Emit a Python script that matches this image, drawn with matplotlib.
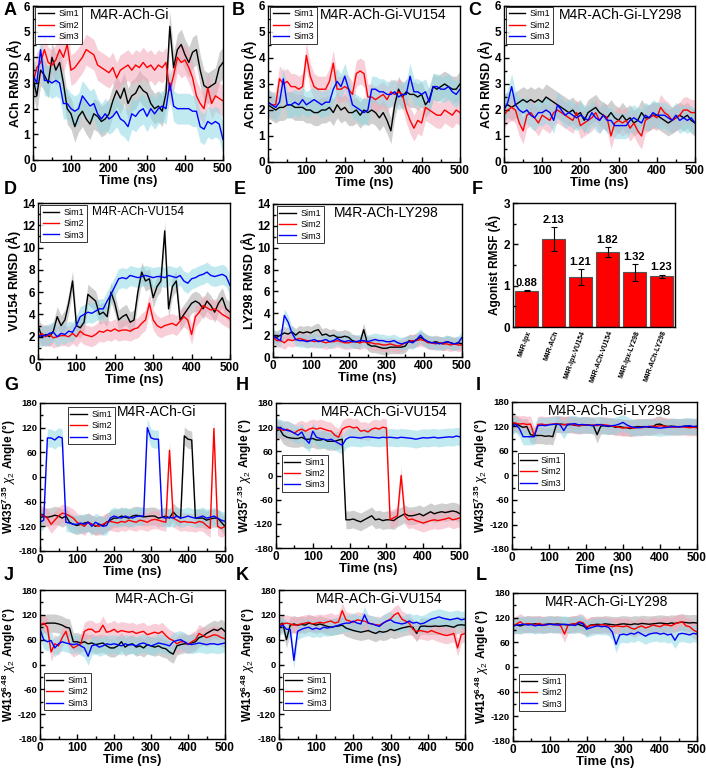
import numpy as np
import matplotlib
matplotlib.use('Agg')
import matplotlib.pyplot as plt
from matplotlib.ticker import MultipleLocator

plt.rcParams['font.family'] = ['Liberation Sans', 'DejaVu Sans']
plt.rcParams['mathtext.fontset'] = 'custom'
plt.rcParams['mathtext.rm'] = 'Liberation Sans'
plt.rcParams['mathtext.bf'] = 'Liberation Sans:bold'
plt.rcParams['mathtext.it'] = 'Liberation Sans:italic'
plt.rcParams['axes.unicode_minus'] = False

# time grid (ns), one value every 10 ns
t_ns = np.arange(0, 501, 10)
sim_names = ["Sim1", "Sim2", "Sim3"]

# ---- A: M4R-ACh-Gi, ACh RMSD (A)
a_sim1 = [3.2, 2.5, 3.5, 3.3, 3.0, 4.0, 3.5, 3.8, 3.0, 2.0,
          1.8, 1.3, 1.7, 1.9, 1.6, 1.4, 1.8, 1.7, 1.5, 1.6,
          1.8, 2.3, 2.7, 2.4, 2.8, 2.2, 2.5, 2.6, 2.9, 2.7,
          2.6, 2.2, 2.0, 2.1, 1.9, 2.6, 5.2, 3.6, 4.3, 4.5,
          4.1, 3.8, 4.2, 4.3, 3.5, 2.9, 2.8, 2.9, 3.0, 3.6, 3.8]
a_sim2 = [3.0, 3.6, 3.8, 4.3, 3.8, 3.7, 3.9, 4.3, 4.0, 4.5,
          3.5, 3.6, 3.8, 4.0, 4.3, 4.2, 4.1, 3.7, 3.6, 3.5,
          3.4, 3.6, 3.2, 3.5, 3.6, 3.7, 3.5, 3.7, 3.6, 3.8,
          3.6, 3.7, 3.5, 3.7, 3.6, 3.8, 2.7, 3.3, 4.0, 3.8,
          3.9, 3.6, 3.2, 2.5, 2.2, 2.0, 2.8, 2.2, 2.5, 2.4, 2.3]
a_sim3 = [3.3, 3.0, 4.3, 3.1, 3.1, 3.0, 3.1, 3.0, 2.2, 2.2,
          2.0, 1.9, 2.0, 2.5, 2.3, 2.1, 2.2, 1.8, 1.6, 1.8,
          1.6, 1.7, 1.9, 1.6, 1.5, 1.3, 1.8, 1.7, 1.9, 2.0,
          1.7, 2.0, 1.8, 2.0, 2.1, 2.0, 3.0, 2.1, 2.0, 2.0,
          2.0, 2.0, 1.9, 1.9, 1.3, 1.2, 1.5, 1.4, 1.5, 1.4, 0.8]

# ---- B: M4R-ACh-Gi-VU154
b_sim1 = [2.2, 2.1, 2.0, 2.1, 2.1, 2.2, 2.2, 2.1, 2.1, 2.1,
          2.0, 2.0, 1.9, 1.9, 2.0, 2.0, 2.1, 1.9, 2.2, 2.0,
          2.1, 1.9, 1.9, 2.0, 1.8, 2.0, 1.9, 2.0, 1.9, 1.7,
          1.9, 1.6, 1.2, 2.2, 2.8, 2.5, 2.7, 2.6, 2.6, 2.5,
          2.6, 2.2, 2.4, 2.9, 2.8, 2.9, 3.0, 2.9, 2.8, 2.8, 3.0]
b_sim2 = [2.3, 2.2, 2.2, 3.2, 3.0, 3.1, 2.9, 2.9, 2.8, 2.9,
          4.1, 3.3, 2.9, 2.8, 2.8, 2.8, 3.1, 3.8, 2.8, 2.8,
          2.9, 2.8, 2.6, 3.4, 3.5, 3.4, 2.5, 2.5, 2.4, 2.5,
          2.6, 2.4, 2.7, 2.6, 2.7, 2.6, 2.0, 1.6, 1.3, 1.6,
          1.5, 2.1, 2.0, 1.9, 1.8, 1.8, 2.0, 1.9, 1.8, 2.0, 1.9]
b_sim3 = [2.3, 2.2, 2.1, 2.3, 3.2, 2.2, 2.2, 2.3, 2.2, 2.4,
          2.2, 2.3, 2.4, 2.3, 2.2, 2.3, 2.3, 2.8, 3.1, 2.9,
          3.3, 2.8, 2.2, 2.1, 2.0, 1.9, 2.0, 2.8, 2.8, 2.7,
          2.7, 2.6, 2.6, 2.7, 2.5, 2.6, 2.6, 3.3, 2.7, 2.7,
          2.6, 2.7, 2.3, 2.9, 2.9, 2.8, 2.8, 2.9, 2.7, 2.6, 2.8]

# ---- C: M4R-ACh-Gi-LY298
c_sim1 = [2.1, 2.2, 2.1, 2.2, 2.3, 2.4, 2.3, 2.4, 2.3, 2.4,
          2.3, 2.5, 2.4, 2.3, 2.2, 2.1, 2.0, 1.9, 2.0, 1.8,
          1.9, 1.6, 1.9, 2.0, 2.1, 1.9, 1.8, 1.7, 1.9, 1.7,
          1.6, 1.8, 1.6, 1.7, 1.5, 1.6, 1.9, 1.7, 1.7, 1.8,
          1.8, 1.7, 1.6, 1.5, 1.6, 1.7, 1.8, 1.7, 1.8, 1.6, 1.5]
c_sim2 = [1.8, 2.0, 2.1, 2.0, 1.5, 1.2, 1.8, 1.9, 1.7, 1.5,
          1.8, 1.7, 1.6, 1.9, 2.0, 1.9, 1.8, 1.7, 1.6, 1.9,
          1.4, 1.5, 1.6, 1.7, 1.9, 1.6, 1.8, 1.7, 1.0, 1.5,
          1.6, 1.5, 1.6, 1.3, 1.5, 1.2, 1.0, 1.6, 1.7, 1.8,
          1.7, 2.1, 1.9, 1.8, 1.6, 1.7, 1.8, 2.0, 2.0, 1.9, 1.9]
c_sim3 = [2.0, 2.3, 2.9, 2.2, 2.0, 1.9, 2.0, 1.8, 1.7, 1.9,
          1.9, 2.0, 1.9, 1.6, 2.2, 2.0, 1.8, 1.9, 1.8, 1.7,
          1.8, 1.7, 1.6, 1.9, 1.7, 1.6, 1.8, 1.6, 1.6, 1.4,
          1.4, 1.4, 1.4, 1.6, 1.7, 1.6, 1.5, 1.8, 1.7, 1.9,
          1.8, 1.8, 1.8, 1.7, 1.6, 1.8, 1.6, 1.7, 1.6, 1.7, 1.5]

# ---- D: M4R-ACh-VU154, VU154 RMSD
d_sim1 = [3.0, 2.0, 2.2, 2.0, 2.5, 3.8, 3.0, 3.5, 5.0, 7.0,
          3.0, 2.8, 3.3, 5.8, 5.5, 5.2, 4.0, 4.2, 3.8, 6.0,
          5.0, 3.5, 3.8, 4.0, 3.3, 3.5, 6.0, 7.8, 7.0, 7.2,
          5.5, 6.5, 7.0, 11.5, 4.5, 6.5, 7.0, 3.5, 4.0, 4.5,
          5.0, 5.2, 5.0, 4.5, 5.2, 4.8, 4.2, 5.0, 5.5, 4.5, 4.2]
d_sim2 = [2.0, 2.3, 2.0, 2.2, 1.9, 2.0, 2.1, 2.1, 2.0, 2.3,
          2.0, 2.5, 2.2, 2.1, 2.0, 2.2, 2.5, 2.4, 2.6, 2.5,
          2.7, 2.5, 2.6, 2.6, 2.5, 2.7, 2.8, 3.2, 3.5, 5.0,
          3.5, 3.0, 2.8, 3.0, 3.1, 3.2, 3.0, 3.4, 3.8, 3.5,
          2.2, 3.8, 4.2, 4.8, 4.6, 4.4, 4.5, 4.3, 4.0, 3.8, 3.6]
d_sim3 = [2.0, 2.1, 2.1, 2.3, 2.4, 2.0, 2.3, 2.2, 2.5, 2.4,
          3.0, 3.8, 4.0, 4.2, 4.1, 4.3, 4.5, 4.5, 5.2, 5.8,
          6.5, 7.2, 7.3, 7.2, 7.5, 7.4, 7.3, 7.4, 7.5, 7.4,
          7.3, 7.4, 7.4, 7.3, 7.5, 7.4, 7.3, 7.5, 7.0, 6.8,
          7.2, 7.3, 7.5, 7.6, 7.8, 7.5, 7.4, 7.5, 7.6, 7.4, 6.6]

# ---- E: M4R-ACh-LY298, LY298 RMSD
e_sim1 = [1.9, 1.8, 2.0, 2.2, 2.1, 2.3, 2.0, 2.3, 2.2, 2.3,
          2.2, 2.4, 2.5, 2.0, 2.1, 1.9, 2.0, 1.8, 1.8, 1.9,
          1.8, 1.5, 1.4, 1.3, 2.5, 1.2, 1.0, 1.0, 0.9, 0.8,
          0.8, 0.9, 0.9, 0.9, 0.9, 1.0, 1.5, 1.4, 1.6, 1.8,
          1.6, 1.4, 1.3, 1.4, 1.3, 1.2, 1.4, 1.3, 1.2, 1.3, 1.2]
e_sim2 = [1.8, 1.5, 1.5, 1.3, 1.6, 1.5, 1.6, 1.7, 1.6, 1.5,
          1.5, 1.4, 1.5, 1.4, 1.3, 1.4, 1.4, 1.5, 1.4, 1.3,
          1.3, 1.4, 1.4, 1.3, 1.4, 1.3, 1.3, 1.2, 1.2, 1.1,
          1.1, 1.2, 1.1, 1.0, 1.1, 1.3, 1.4, 1.5, 1.5, 1.6,
          1.5, 1.3, 1.3, 1.2, 1.3, 1.2, 1.2, 1.1, 1.2, 1.1, 1.1]
e_sim3 = [2.0, 1.7, 1.5, 3.8, 3.2, 2.2, 1.6, 1.5, 1.5, 1.4,
          1.5, 1.6, 1.4, 1.5, 1.6, 1.4, 1.5, 1.7, 1.5, 1.4,
          1.5, 1.4, 1.4, 1.5, 1.5, 1.4, 1.5, 1.6, 1.5, 1.5,
          1.4, 1.4, 1.5, 1.3, 1.2, 1.3, 1.4, 1.3, 1.6, 2.0,
          1.6, 1.4, 1.3, 1.3, 1.2, 1.3, 1.4, 1.3, 1.2, 1.3, 1.8]

# ---- F: agonist RMSF bars
f_labels = ["M4R-Ipx", "M4R-ACh", "M4R-Ipx-VU154", "M4R-ACh-VU154",
            "M4R-Ipx-LY298", "M4R-ACh-LY298"]
f_values = [0.88, 2.13, 1.21, 1.82, 1.32, 1.23]
f_errors = [0.02, 0.29, 0.19, 0.12, 0.21, 0.04]

# ---- G: W435 chi2, M4R-ACh-Gi
g_sim1 = [-100, -95, -98, -96, -93, -95, -100, -95, -110, -115,
          -118, -115, -112, -110, -115, -120, -115, -118, -110, -105,
          -100, -100, -95, -98, -100, -95, -93, -95, -97, -96,
          -95, -95, -100, -98, -95, -100, -85, -95, -100, 100,
          92, 90, -100, -100, -100, -105, -102, -100, -100, -110, -120]
g_sim2 = [-90, -95, -100, -115, -105, -95, -88, -90, -95, -100,
          -110, -115, -120, -110, -115, -118, -120, -115, -110, -108,
          -110, -112, -108, -110, -105, -108, -110, -105, -107, -110,
          -105, -103, -105, -108, -110, 65, -100, -105, -110, -108,
          -110, -110, -112, -108, -110, -118, -125, 118, -120, -125, -120]
g_sim3 = [-110, -105, 95, 95, 90, 98, 95, -110, -112, -115,
          -115, -112, -115, -110, -120, -110, -115, -120, -118, -100,
          -95, -98, -100, -95, -98, -100, -96, -95, -95, 120,
          95, 92, 92, -98, -100, -98, -100, -95, -100, -98,
          -95, -98, -100, -98, -95, -100, -98, -95, -100, -105, -108]

# ---- H: W435 chi2, M4R-ACh-Gi-VU154
h_sim1 = [110, 115, 100, 95, 93, 92, 92, 95, 90, 90,
          92, 88, 88, 90, 85, 85, 85, 88, 90, -110,
          -110, -108, -112, -115, -110, -105, -100, -110, -108, -112,
          -110, -110, -112, -105, -100, -95, -100, -100, -98, -95,
          -100, -95, -90, -95, -92, -90, -92, -90, -88, -90, -95]
h_sim2 = [118, 115, 112, 115, 110, 105, 112, 115, 110, 115,
          118, 115, 118, 115, 112, 110, 100, 95, 115, 120,
          122, 118, 120, 110, 112, 108, 115, 118, 115, 120,
          118, -110, -105, -100, 0, -100, -110, -108, -112, -115,
          -118, -115, -112, -110, -112, -110, -108, -105, -110, -108, -105]
h_sim3 = [120, 118, 115, 112, 110, 105, 100, 108, 90, 80,
          110, 95, 92, 90, 88, 90, 85, 80, 75, 90,
          95, 95, 94, 93, 95, 96, 95, 94, 93, 95,
          94, 95, 94, 93, 95, 94, 93, 92, 90, 92,
          94, 93, 94, 95, 93, 94, 95, 96, 95, 98, 96]

# ---- I: W435 chi2, M4R-ACh-Gi-LY298
i_sim1 = [125, 128, 122, 118, 120, 100, 98, 98, 98, 96,
          97, 95, 125, 126, 125, 124, 125, 123, 122, 123,
          124, 123, 122, 100, 121, 122, 120, 121, 118, 120,
          118, 117, 115, 118, 120, 119, 120, 118, 119, 125,
          126, 122, 120, 121, 120, 119, 120, 121, 120, 119, 120]
i_sim2 = [130, 128, 126, 127, 125, 126, 98, 125, 126, 124,
          125, 126, 127, 125, 124, 126, 125, 124, 122, 123,
          124, 123, 124, 122, 125, 124, 123, 121, 120, 118,
          116, 118, 117, 116, 118, 117, 119, 120, 121, 120,
          122, 121, 120, 119, 118, 120, 119, 118, 117, 118, 117]
i_sim3 = [120, 125, 115, 95, 95, 95, 95, 122, 123, 122,
          124, 125, 126, 124, 110, 125, 126, 127, 124, 125,
          124, 123, 122, 125, 124, 122, 121, 122, 123, 126,
          130, 124, 120, 118, 117, 118, 119, 120, 118, 117,
          116, 117, 118, 119, 120, 119, 120, 121, 122, 120, 121]

# ---- J: W413 chi2, M4R-ACh-Gi
j_sim1 = [95, 98, 100, 100, 100, 98, 95, 90, 88, 55,
          55, 52, 55, 50, 52, 48, 50, 52, 45, 40,
          40, 45, 55, 42, 48, 50, 42, 45, 40, 48,
          45, 42, 45, 40, 38, 30, 25, 45, 48, 50,
          50, 52, 55, 65, 68, 75, 80, 85, 82, 88, 80]
j_sim2 = [95, 100, 90, 30, 50, 45, 65, 80, 50, 40,
          45, 50, 80, 85, 85, 78, 80, 95, 78, 80,
          85, 78, 82, 80, 78, 80, 75, 78, 80, 72,
          75, 78, 75, 80, 70, 62, 58, 50, 55, 55,
          48, 55, 60, 75, 70, 65, 68, 72, 70, 65, 62]
j_sim3 = [85, 60, 55, 58, 40, 50, 55, 52, 50, 48,
          50, 45, 40, 20, 45, 48, 42, 45, 50, 48,
          50, 48, 45, 50, 47, 48, 45, 50, 52, 48,
          45, 48, 52, 50, 48, 45, 55, 58, 60, 55,
          50, 48, 50, 52, 50, 48, 50, 50, 48, 50, 52]

# ---- K: W413 chi2, M4R-ACh-Gi-VU154
k_sim1 = [95, 100, 60, 95, 98, 95, 97, 95, 100, 98,
          95, 98, 95, 92, 90, 92, 93, 95, 88, 85,
          82, 80, 78, 80, 82, 78, 75, 80, 78, 80,
          85, 82, 85, 88, 90, 92, 90, 75, 92, 93,
          92, 92, 93, 92, 93, 94, 92, 90, 95, 96, 95]
k_sim2 = [95, 98, 100, 98, 95, 96, 98, 100, 102, 98,
          100, 102, 100, 103, 105, 100, 103, 130, 108, 105,
          102, 108, 106, 105, 100, 98, 96, 95, 100, 105,
          110, 120, 125, 110, 105, 100, 85, 80, 82, 80,
          78, 82, 78, 75, 72, 70, 72, 75, 40, 72, 75]
k_sim3 = [90, 95, 85, 85, 10, 80, 85, 88, 90, 85,
          88, 85, 90, 88, 90, 92, 95, 98, 100, 100,
          105, 100, 98, 120, 100, 98, 95, 92, 100, 105,
          108, 102, 100, 98, 100, 105, 100, 102, 98, 100,
          105, 110, 112, 115, 112, 110, 108, 110, 112, 108, 110]

# ---- L: W413 chi2, M4R-ACh-Gi-LY298
l_sim1 = [100, 102, 100, 103, 105, 104, 105, 104, 103, 104,
          105, 104, 105, 104, 103, 102, 104, 105, 103, 100,
          95, 102, 103, 104, 103, 105, 104, 103, 102, 104,
          105, 104, 103, 105, 104, 106, 105, 104, 105, 106,
          107, 106, 105, 107, 106, 108, 109, 108, 107, 108, 107]
l_sim2 = [100, 105, 110, 103, 105, 104, 102, 106, 103, 102,
          104, 103, 104, 100, 80, 103, 104, 105, 110, 108,
          98, 100, 102, 101, 103, 102, 100, 98, 100, 99,
          98, 100, 95, 92, 97, 100, 95, 98, 102, 100,
          98, 103, 102, 100, 105, 108, 110, 100, 98, 90, 85]
l_sim3 = [100, 102, 103, 104, 102, 103, 100, 102, 101, 103,
          104, 103, 102, 103, 104, 103, 102, 101, 108, 105,
          92, 95, 98, 100, 98, 99, 96, 85, 55, 78,
          80, 78, 82, 80, 85, 80, 75, 80, 82, 83,
          80, 82, 78, 80, 65, 80, 82, 80, 78, 82, 80]

# fluctuation half-width of the raw traces behind each running line
spread = {"A": 0.6, "B": 0.5, "C": 0.5, "D": 0.9, "E": 0.6,
          "G": 22, "H": 22, "I": 20, "J": 22, "K": 20, "L": 20}

line_colors = ["black", "red", "blue"]
band_colors = ["#a8a8a8", "#f4a6b8", "#8fd8e4"]

W, H = 706, 770
fig = plt.figure(figsize=(W / 100, H / 100), dpi=100)


def add_ax(l, t, r, b):
    return fig.add_axes([l / W, 1 - b / H, (r - l) / W, (b - t) / H])


def style_ax(ax, ysize=8.5):
    ax.tick_params(which='both', direction='in', labelsize=8.5, width=1)
    ax.tick_params(axis='y', labelsize=ysize, pad=2)
    ax.tick_params(axis='x', pad=2)
    ax.tick_params(which='major', length=3.5)
    ax.tick_params(which='minor', length=2)
    for lab in ax.get_xticklabels() + ax.get_yticklabels():
        lab.set_fontweight('bold')
    for s in ax.spines.values():
        s.set_linewidth(1)


chi_435 = "W435$^{\\mathbf{7.35}}$ $\\chi_2$ Angle (°)"
chi_413 = "W413$^{\\mathbf{6.48}}$ $\\chi_2$ Angle (°)"

panels = [
    # key, box px, series, title, title x, title size, ylabel, ylim, major, minor, legend anchor
    ("A", (33, 6, 223, 160), [a_sim1, a_sim2, a_sim3], "M4R-ACh-Gi", 0.51, 10,
     "ACh RMSD (Å)", (0, 6), 1, 0.5, (0.01, 0.995)),
    ("B", (268, 6, 460, 162), [b_sim1, b_sim2, b_sim3], "M4R-ACh-Gi-VU154", 0.6, 10,
     "ACh RMSD (Å)", (0, 6), 1, 0.5, (0.01, 0.995)),
    ("C", (504, 6, 695, 162), [c_sim1, c_sim2, c_sim3], "M4R-ACh-Gi-LY298", 0.61, 10,
     "ACh RMSD (Å)", (0, 6), 1, 0.5, (0.01, 0.995)),
    ("D", (38, 203, 230, 359), [d_sim1, d_sim2, d_sim3], "M4R-ACh-VU154", 0.52, 8.5,
     "VU154 RMSD (Å)", (0, 14), 2, 1, (0.01, 0.985)),
    ("E", (273, 204, 462, 357), [e_sim1, e_sim2, e_sim3], "M4R-ACh-LY298", 0.6, 10,
     "LY298 RMSD (Å)", (0, 14), 2, 1, (0.02, 0.985)),
    ("G", (40, 403, 225, 551), [g_sim1, g_sim2, g_sim3], "M4R-ACh-Gi", 0.63, 10,
     chi_435, (-180, 180), 60, 30, (0.15, 0.97)),
    ("H", (276, 403, 460, 548), [h_sim1, h_sim2, h_sim3], "M4R-ACh-Gi-VU154", 0.59, 10,
     chi_435, (-180, 180), 60, 30, (0.03, 0.64)),
    ("I", (512, 402, 697, 549), [i_sim1, i_sim2, i_sim3], "M4R-ACh-Gi-LY298", 0.53, 10,
     chi_435, (-180, 180), 60, 30, (0.03, 0.65)),
    ("J", (40, 590, 225, 739), [j_sim1, j_sim2, j_sim3], "M4R-ACh-Gi", 0.62, 10,
     chi_413, (-180, 180), 60, 30, (0.02, 0.44)),
    ("K", (279, 590, 465, 739), [k_sim1, k_sim2, k_sim3], "M4R-ACh-Gi-VU154", 0.54, 10,
     chi_413, (-180, 180), 60, 30, (0.02, 0.44)),
    ("L", (513, 593, 697, 741), [l_sim1, l_sim2, l_sim3], "M4R-ACh-Gi-LY298", 0.51, 10,
     chi_413, (-180, 180), 60, 30, (0.03, 0.45)),
]

for key, box, series, title, tx, tsize, ylabel, ylim, major, minor, lg in panels:
    ax = add_ax(*box)
    sp = spread[key]
    for ys, bc in zip(series, band_colors):
        ys = np.array(ys, dtype=float)
        ax.fill_between(t_ns, ys - sp, ys + sp, color=bc, alpha=0.55, lw=0)
    for ys, lc, name in zip(series, line_colors, sim_names):
        ax.plot(t_ns, ys, color=lc, lw=1.0, label=name)
    ax.set_xlim(0, 500)
    ax.set_ylim(*ylim)
    ax.xaxis.set_major_locator(MultipleLocator(100))
    ax.xaxis.set_minor_locator(MultipleLocator(50))
    ax.yaxis.set_major_locator(MultipleLocator(major))
    ax.yaxis.set_minor_locator(MultipleLocator(minor))
    angle = ylim[0] < 0
    style_ax(ax, 6.8 if angle else 8.5)
    ax.set_xlabel("Time (ns)", fontsize=9.5, fontweight='bold', labelpad=0)
    ax.set_ylabel(ylabel, fontsize=8.5 if angle else 9, fontweight='bold',
                  labelpad=0 if angle else 1)
    ax.text(tx, 0.94, title, transform=ax.transAxes, ha='center', va='center',
            fontsize=tsize)
    leg = ax.legend(loc='upper left', bbox_to_anchor=lg, borderaxespad=0,
                    fontsize=6.5, handlelength=1.8, labelspacing=0.25,
                    borderpad=0.3, handletextpad=0.5, fancybox=False)
    leg.get_frame().set_edgecolor('black')
    leg.get_frame().set_linewidth(0.7)

# ---- F bar panel
axf = add_ax(513, 203, 675, 327)
xpos = np.arange(len(f_values))
axf.bar(xpos, f_values, width=0.88, color='red', edgecolor='#555555', lw=0.8,
        yerr=f_errors, error_kw=dict(ecolor='black', elinewidth=0.8, capsize=2, capthick=0.8))
for x, v, e in zip(xpos, f_values, f_errors):
    axf.text(x, v + e + 0.05, "%.2f" % v, ha='center', va='bottom',
             fontsize=8, fontweight='bold')
axf.set_xlim(-0.5, 5.5)
axf.set_ylim(0, 3)
axf.yaxis.set_major_locator(MultipleLocator(1))
axf.yaxis.set_minor_locator(MultipleLocator(0.5))
axf.set_xticks(xpos)
axf.set_xticklabels(f_labels, rotation=70, ha='right', rotation_mode='anchor')
style_ax(axf)
axf.tick_params(axis='x', labelsize=5, which='both', length=0)
axf.set_ylabel("Agonist RMSF (Å)", fontsize=8.5, fontweight='bold', labelpad=2)

# panel letters
letters = {"A": (4, 2), "B": (232, 2), "C": (468, 2),
           "D": (4, 181), "E": (234, 181), "F": (472, 181),
           "G": (4, 377), "H": (236, 377), "I": (476, 377),
           "J": (4, 567), "K": (236, 567), "L": (476, 567)}
for k, (px, py) in letters.items():
    fig.text(px / W, 1 - py / H, k, fontsize=13, fontweight='bold',
             ha='left', va='top')

fig.savefig("out.png", dpi=100)
